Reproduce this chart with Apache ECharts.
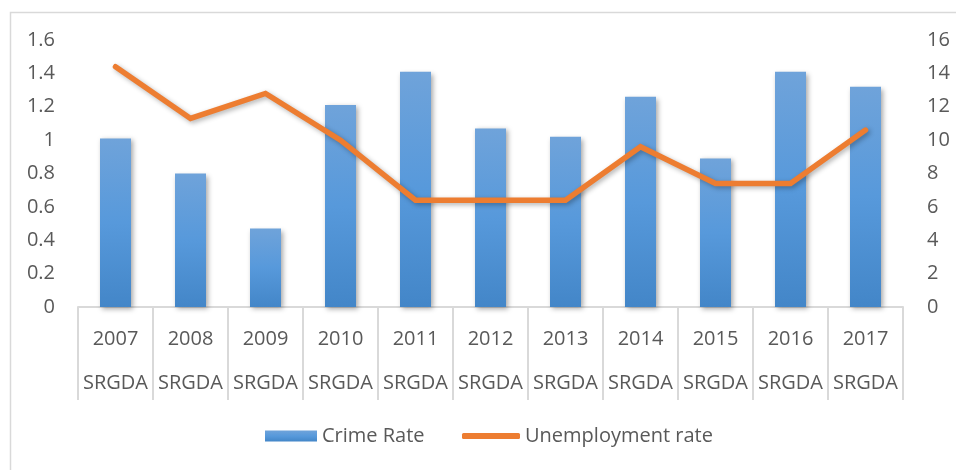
<!DOCTYPE html>
<html>
<head>
<meta charset="utf-8">
<script src="https://cdn.jsdelivr.net/npm/echarts@6/dist/echarts.min.js"></script>
<style>
  html, body { margin: 0; padding: 0; background: #fff; }
  #chart { width: 956px; height: 470px; }
</style>
</head>
<body>
<div id="chart"></div>
<script>
// Years on the category axis, with the region group under each one
const years = ['2007', '2008', '2009', '2010', '2011', '2012', '2013', '2014', '2015', '2016', '2017'];
const regions = ['SRGDA', 'SRGDA', 'SRGDA', 'SRGDA', 'SRGDA', 'SRGDA', 'SRGDA', 'SRGDA', 'SRGDA', 'SRGDA', 'SRGDA'];

// Crime rate (left axis) and unemployment rate in % (right axis)
const crimeRate = [1.01, 0.80, 0.47, 1.21, 1.41, 1.07, 1.02, 1.26, 0.89, 1.41, 1.32];
const unemploymentRate = [14.4, 11.3, 12.8, 10.0, 6.4, 6.4, 6.4, 9.6, 7.4, 7.4, 10.6];

const labelColor = '#595959';
const fontFamily = '"Open Sans", "Noto Sans", sans-serif';

const chart = echarts.init(document.getElementById('chart'), null, { renderer: 'canvas' });

chart.setOption({
  animation: false,
  backgroundColor: '#ffffff',
  textStyle: { fontFamily: fontFamily },
  graphic: [{
    type: 'rect',
    left: 8, top: 10,
    shape: { width: 960, height: 470 },
    style: { fill: 'none', stroke: '#D9D9D9', lineWidth: 1.5 },
    silent: true,
    z: -1
  }],
  grid: { left: 78, right: 53, top: 40, bottom: 163 },
  legend: [{
    data: ['Crime Rate'],
    left: 265, top: 426,
    padding: 0,
    itemWidth: 52, itemHeight: 11, itemGap: 4,
    icon: 'rect',
    textStyle: { color: labelColor, fontSize: 20, fontFamily: fontFamily }
  }, {
    data: [{ name: 'Unemployment rate', icon: 'roundRect' }],
    left: 462, top: 426,
    padding: 0,
    itemWidth: 58, itemHeight: 6, itemGap: 2,
    textStyle: { color: labelColor, fontSize: 20, fontFamily: fontFamily }
  }],
  xAxis: {
    type: 'category',
    data: years,
    boundaryGap: true,
    axisLine: { show: true, lineStyle: { color: '#D9D9D9', width: 2 } },
    axisTick: { show: true, interval: 0, length: 93, lineStyle: { color: '#D9D9D9', width: 2 } },
    axisLabel: {
      interval: 0,
      margin: 10,
      formatter: function (v, i) { return '{y|' + v + '}\n{s|' + regions[i] + '}'; },
      rich: {
        y: { fontSize: 20, lineHeight: 44, color: labelColor, fontFamily: fontFamily },
        s: { fontSize: 20, lineHeight: 44, color: labelColor, fontFamily: fontFamily }
      }
    },
    splitLine: { show: false }
  },
  yAxis: [{
    type: 'value',
    min: 0, max: 1.6, interval: 0.2,
    axisLine: { show: false },
    axisTick: { show: false },
    splitLine: { show: false },
    axisLabel: {
      margin: 23, color: labelColor, fontSize: 20, fontFamily: fontFamily,
      formatter: function (v) { return String(Math.round(v * 10) / 10); }
    }
  }, {
    type: 'value',
    min: 0, max: 16, interval: 2,
    position: 'right',
    axisLine: { show: false },
    axisTick: { show: false },
    splitLine: { show: false },
    axisLabel: { margin: 24, color: labelColor, fontSize: 20, fontFamily: fontFamily }
  }],
  series: [{
    name: 'Crime Rate',
    type: 'bar',
    data: crimeRate,
    yAxisIndex: 0,
    barWidth: 31,
    itemStyle: {
      color: new echarts.graphic.LinearGradient(0, 0, 0, 1, [
        { offset: 0, color: '#6FA3DA' },
        { offset: 0.5, color: '#5799DB' },
        { offset: 1, color: '#4386C8' }
      ]),
      shadowColor: 'rgba(0,0,0,0.35)',
      shadowBlur: 5,
      shadowOffsetX: 2,
      shadowOffsetY: 2
    }
  }, {
    name: 'Unemployment rate',
    type: 'line',
    data: unemploymentRate,
    yAxisIndex: 1,
    symbol: 'none',
    color: '#ED7D31',
    lineStyle: {
      color: '#ED7D31',
      width: 5.5,
      cap: 'round',
      join: 'miter',
      shadowColor: 'rgba(0,0,0,0.3)',
      shadowBlur: 5,
      shadowOffsetX: 2,
      shadowOffsetY: 2
    },
    z: 3
  }]
});
</script>
</body>
</html>
